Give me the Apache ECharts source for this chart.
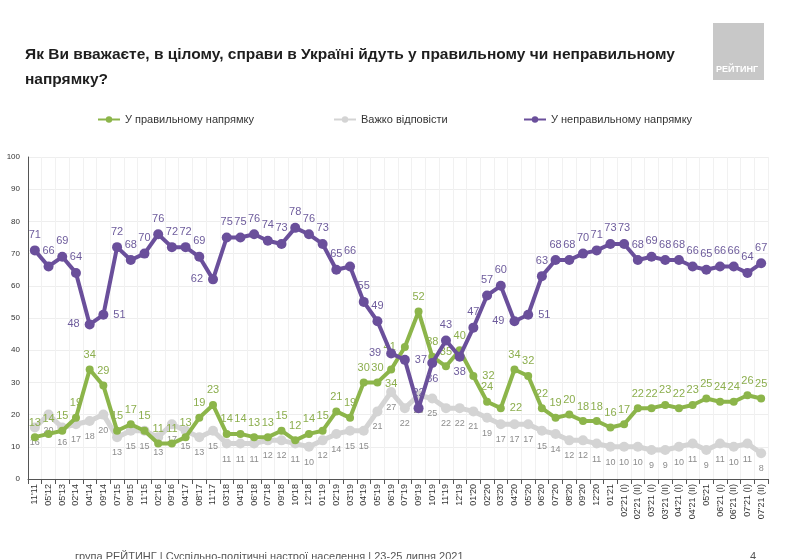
<!DOCTYPE html>
<html><head><meta charset="utf-8">
<script src="https://cdn.jsdelivr.net/npm/echarts@6/dist/echarts.min.js"></script>
<style>html,body{margin:0;padding:0;background:#fff}#c{width:790px;height:559px}</style>
</head><body><div id="c"></div>
<script>
var categories = ["11'11","05'12","05'13","02'14","04'14","09'14","07'15","09'15","11'15","02'16","09'16","04'17","08'17","11'17","03'18","04'18","06'18","07'18","09'18","10'18","12'18","01'19","02'19","03'19","04'19","05'19","06'19","07'19","09'19","10'19","11'19","12'19","01'20","02'20","03'20","04'20","05'20","06'20","07'20","08'20","09'20","12'20","01'21","02'21 (I)","02'21 (II)","03'21 (I)","03'21 (II)","04'21 (I)","04'21 (II)","05'21","06'21 (I)","06'21 (II)","07'21 (I)","07'21 (II)"];
var rightDir = [13,14,15,19,34,29,15,17,15,11,11,13,19,23,14,14,13,13,15,12,14,15,21,19,30,30,34,41,52,38,35,40,32,24,22,34,32,22,19,20,18,18,16,17,22,22,23,22,23,25,24,24,26,25];
var hardToSay = [16,20,16,17,18,20,13,15,15,13,17,15,13,15,11,11,11,12,12,11,10,12,14,15,15,21,27,22,26,25,22,22,21,19,17,17,17,15,14,12,12,11,10,10,10,9,9,10,11,9,11,10,11,8];
var wrongDir = [71,66,69,64,48,51,72,68,70,76,72,72,69,62,75,75,76,74,73,78,76,73,65,66,55,49,39,37,22,36,43,38,47,57,60,49,51,63,68,68,70,71,73,73,68,69,68,68,66,65,66,66,64,67];
var yTicks = [0,10,20,30,40,50,60,70,80,90,100];
var seriesNames = ["У правильному напрямку","Важко відповісти","У неправильному напрямку"];

var GREEN = '#8cb54a', GRAY = '#d4d4d4', PURPLE = '#6a4f9b';
var narrow = "'Liberation Sans Narrow','Arial Narrow','Liberation Sans',sans-serif";

// label position tweaks for readability (index -> position)
var wrongPos = {4:'left',5:'right',13:'left',26:'left',27:'right',28:'top',29:'bottom',31:'bottom',35:'left',36:'right'};
var rightPos = {3:'top',26:'bottom',27:'left',29:'top',30:'top',31:'top',32:'right',34:'right'};

function build(vals, pos) {
  return vals.map(function(v, i){
    return pos && pos[i] ? {value: v, label: {position: pos[i]}} : v;
  });
}

var chart = echarts.init(document.getElementById('c'), null, {renderer:'canvas'});
chart.setOption({
  backgroundColor: '#fff',
  animation: false,
  title: {
    text: 'Як Ви вважаєте, в цілому, справи в Україні йдуть у правильному чи неправильному\nнапрямку?',
    left: 20, top: 37,
    textStyle: {fontFamily: narrow, fontWeight: 'bold', fontSize: 15.5, color: '#1e1e1e', lineHeight: 25}
  },
  legend: [
    {data: [seriesNames[0]], left: 92, top: 109, itemWidth: 22, itemHeight: 8, textStyle:{fontFamily: narrow, fontSize: 11, color:'#333'}},
    {data: [seriesNames[1]], left: 328, top: 109, itemWidth: 22, itemHeight: 8, textStyle:{fontFamily: narrow, fontSize: 11, color:'#333'}},
    {data: [seriesNames[2]], left: 518, top: 109, itemWidth: 22, itemHeight: 8, textStyle:{fontFamily: narrow, fontSize: 11, color:'#333'}}
  ],
  grid: {left: 28, right: 22, top: 157, bottom: 80, containLabel: false},
  xAxis: {
    type: 'category', data: categories, boundaryGap: true,
    axisLine: {lineStyle: {color: '#555', width: 1}},
    axisTick: {show: true, alignWithLabel: false, lineStyle:{color:'#555'}},
    axisLabel: {rotate: 90, interval: 0, fontSize: 9, fontFamily: narrow, color: '#333', margin: 5},
    splitLine: {show: true, lineStyle: {color: '#f1f1f1'}}
  },
  yAxis: {
    type: 'value', min: 0, max: 100, interval: 10,
    axisLine: {show: true, lineStyle: {color: '#555'}},
    axisTick: {show: false},
    axisLabel: {fontSize: 8, fontFamily: narrow, color: '#333', margin: 8,
      formatter: function(v){ return yTicks.indexOf(v) >= 0 ? String(v) : ''; }},
    splitLine: {show: true, lineStyle: {color: '#eeeeee'}}
  },
  series: [
    {
      name: seriesNames[1], type: 'line', data: build(hardToSay), z: 2,
      symbol: 'circle', symbolSize: 10,
      lineStyle: {color: GRAY, width: 5}, itemStyle: {color: GRAY},
      label: {show: true, position: 'bottom', distance: 6, fontSize: 9, fontFamily: narrow, color: '#8c8c8c'}
    },
    {
      name: seriesNames[0], type: 'line', data: build(rightDir, rightPos), z: 3,
      symbol: 'circle', symbolSize: 8,
      lineStyle: {color: GREEN, width: 4}, itemStyle: {color: GREEN},
      label: {show: true, position: 'top', distance: 5, fontSize: 11, fontFamily: narrow, color: '#8cae4e'}
    },
    {
      name: seriesNames[2], type: 'line', data: build(wrongDir, wrongPos), z: 4,
      symbol: 'circle', symbolSize: 10,
      lineStyle: {color: PURPLE, width: 4}, itemStyle: {color: PURPLE},
      label: {show: true, position: 'top', distance: 5, fontSize: 11, fontFamily: narrow, color: '#6e5c9c'}
    }
  ],
  graphic: [
    {type: 'rect', left: 713, top: 23, shape: {width: 51, height: 57}, style: {fill: '#c8c8c8'}},
    {type: 'text', left: 716, top: 65, style: {text: 'РЕЙТИНГ', fill: '#fff', font: 'bold 9px ' + narrow}},
    {type: 'text', left: 75, top: 551, style: {text: 'група РЕЙТИНГ | Суспільно-політичні настрої населення | 23-25 липня 2021', fill: '#555', font: '11px ' + narrow}},
    {type: 'text', left: 750, top: 551, style: {text: '4', fill: '#555', font: '11px ' + narrow}}
  ]
});
</script>
</body></html>
